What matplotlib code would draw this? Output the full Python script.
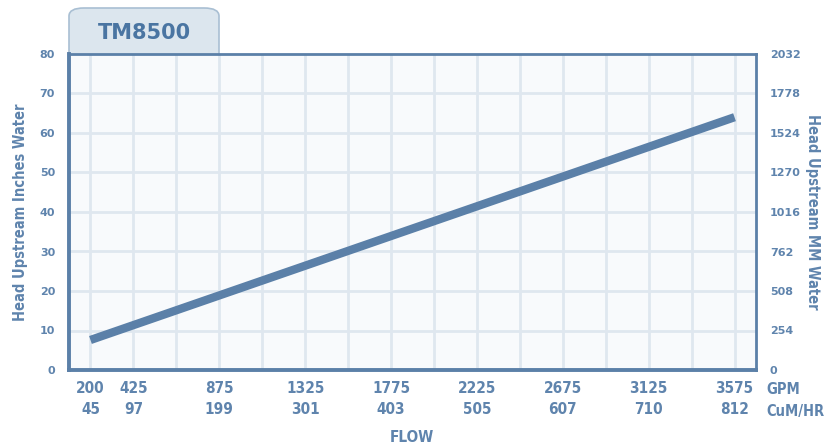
import matplotlib.pyplot as plt
from matplotlib.patches import FancyBboxPatch

# data
gpm_ticks = [200, 425, 875, 1325, 1775, 2225, 2675, 3125, 3575]
cumhr_ticks = [45, 97, 199, 301, 403, 505, 607, 710, 812]
grid_gpm = [200 + 225 * i for i in range(16)]
inch_ticks = [0, 10, 20, 30, 40, 50, 60, 70, 80]
mm_ticks = [0, 254, 508, 762, 1016, 1270, 1524, 1778, 2032]
flow_gpm = [200, 3575]
head_in = [7.6, 64.0]

blue = '#5b80a8'
text_blue = '#5f84ad'
grid_c = '#dfe7ef'
narrow = dict(family='DejaVu Sans', stretch='condensed', fontweight='bold')

fig = plt.figure(figsize=(8.26, 4.48), dpi=100)
ax = fig.add_axes([69 / 826, 1 - 370 / 448, 687 / 826, 316 / 448])
ax.set_facecolor('#f8fafc')

ax.set_xlim(87.5, 3687.5)
ax.set_ylim(0, 80)

for g in grid_gpm:
    ax.axvline(g, color=grid_c, lw=2, zorder=1)
for t in inch_ticks[1:-1]:
    ax.axhline(t, color=grid_c, lw=2, zorder=1)

ax.plot(flow_gpm, head_in, color=blue, lw=6, solid_capstyle='butt', zorder=3)

for side, w in [('left', 2.8), ('bottom', 2.8), ('top', 2.0), ('right', 2.0)]:
    ax.spines[side].set_color(blue)
    ax.spines[side].set_linewidth(w)

ax.set_xticks(gpm_ticks)
ax.set_xticklabels([f'{g}\n{c}' for g, c in zip(gpm_ticks, cumhr_ticks)],
                   fontsize=11, color=text_blue, linespacing=1.5, **narrow)
ax.set_yticks(inch_ticks)
ax.set_yticklabels([str(t) for t in inch_ticks], fontsize=8, fontweight='bold',
                   color=text_blue)
ax.tick_params(axis='both', length=0)
ax.tick_params(axis='x', pad=8)
ax.tick_params(axis='y', pad=10)

ax.set_ylabel('Head Upstream Inches Water', fontsize=10.5,
              color=text_blue, labelpad=8, **narrow)

ax2 = ax.twinx()
ax2.set_ylim(0, 2032)
ax2.set_yticks(mm_ticks)
ax2.set_yticklabels([str(t) for t in mm_ticks], fontsize=8, fontweight='bold',
                    color=text_blue)
ax2.tick_params(axis='y', length=0, pad=10)
for s in ax2.spines.values():
    s.set_visible(False)
ax2.set_ylabel('Head Upstream MM Water', fontsize=10.5,
               color=text_blue, rotation=-90, labelpad=14, **narrow)

fig.text(766 / 826, 1 - 389 / 448, 'GPM', fontsize=10.5, color=text_blue,
         va='center', **narrow)
fig.text(766 / 826, 1 - 411 / 448, 'CuM/HR', fontsize=10.5, color=text_blue,
         va='center', **narrow)
fig.text(412 / 826, 1 - 437 / 448, 'FLOW', fontsize=11, color=text_blue,
         ha='center', va='center', **narrow)

tab = FancyBboxPatch((69 / 826, 1 - 70 / 448), 150 / 826, 62 / 448,
                     boxstyle='round,pad=0,rounding_size=0.018',
                     transform=fig.transFigure, facecolor='#dce6ee',
                     edgecolor='#a9bfd3', lw=1.2, zorder=-1)
fig.patches.append(tab)
fig.text(144 / 826, 1 - 33 / 448, 'TM8500', fontsize=15, fontweight='bold',
         color='#4a75a2', ha='center', va='center')

fig.savefig('out.png', dpi=100)
